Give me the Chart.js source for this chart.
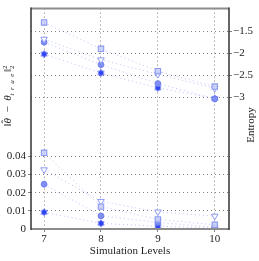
<!DOCTYPE html>
<html>
<head>
<meta charset="utf-8">
<script src="https://cdn.jsdelivr.net/npm/chart.js@4.4.0/dist/chart.umd.min.js"></script>
<style>
html, body { margin: 0; padding: 0; background: #fff; }
</style>
</head>
<body>
<canvas id="c" width="259" height="261"></canvas>
<script>
// simulation levels
const levels = [7, 8, 9, 10];

// entropy, right axis
const entSquare = [-1.30, -1.90, -2.41, -2.76];
const entTri    = [-1.68, -2.15, -2.48, -2.80];
const entCircle = [-1.75, -2.26, -2.69, -3.04];
const entStar   = [-2.02, -2.45, -2.79, -3.03];

// squared error, left axis
const errSquare = [0.0419, 0.0123, 0.0053, 0.0023];
const errTri    = [0.0326, 0.0152, 0.0094, 0.0071];
const errCircle = [0.0246, 0.0072, 0.0036, 0.0010];
const errStar   = [0.0092, 0.0031, 0.0015, 0.0005];

// tick labels
const errTicks = [0, 0.01, 0.02, 0.03, 0.04];
const entTicks = [-1.5, -2, -2.5, -3];

const FONT = '"Liberation Serif", "DejaVu Serif", serif';

// filled six-point star marker
function makeStar(color) {
    const cv = document.createElement('canvas');
    cv.width = 9; cv.height = 9;
    const g = cv.getContext('2d');
    g.fillStyle = color;
    for (let k = 0; k < 2; k++) {
        g.beginPath();
        for (let i = 0; i < 3; i++) {
            const a = -Math.PI / 2 + k * Math.PI + i * 2 * Math.PI / 3;
            const px = 4.5 + 4 * Math.cos(a), py = 4.5 + 4 * Math.sin(a);
            if (i === 0) g.moveTo(px, py); else g.lineTo(px, py);
        }
        g.closePath();
        g.fill();
    }
    return cv;
}
const starImg = makeStar('#2f44f0');

function xy(vals) {
    return vals.map((v, i) => ({x: levels[i], y: v}));
}

const lineCol = 'rgba(160, 170, 246, 0.7)';

function series(vals, axis, kind) {
    const d = {
        data: xy(vals),
        yAxisID: axis,
        borderColor: lineCol,
        borderWidth: 1,
        borderDash: [1, 3],
        fill: false,
        tension: 0
    };
    if (kind === 'square') {
        Object.assign(d, {pointStyle: 'rect', pointRadius: 3.8, pointBorderWidth: 1.1,
            pointBackgroundColor: 'rgba(200, 207, 250, 0.9)', pointBorderColor: '#8d9af2'});
    } else if (kind === 'tri') {
        Object.assign(d, {pointStyle: 'triangle', rotation: 180, pointRadius: 3.8, pointBorderWidth: 1,
            pointBackgroundColor: 'rgba(255,255,255,0.9)', pointBorderColor: '#8d9af2'});
    } else if (kind === 'circle') {
        Object.assign(d, {pointStyle: 'circle', pointRadius: 2.9, pointBorderWidth: 1,
            pointBackgroundColor: '#7f8ef0', pointBorderColor: '#7080ee'});
    } else {
        Object.assign(d, {pointStyle: starImg});
    }
    return d;
}

const decor = {
    id: 'decor',
    afterDraw(chart) {
        const ctx = chart.ctx, a = chart.chartArea;
        ctx.save();
        // frame
        ctx.strokeStyle = '#8c8c8c';
        ctx.lineWidth = 2;
        ctx.beginPath();
        ctx.moveTo(a.left, a.top); ctx.lineTo(a.right, a.top);
        ctx.moveTo(a.left, a.bottom); ctx.lineTo(a.right, a.bottom);
        ctx.stroke();
        ctx.strokeStyle = '#333';
        ctx.lineWidth = 1.5;
        ctx.beginPath();
        ctx.moveTo(a.left, a.top - 1); ctx.lineTo(a.left, a.bottom + 1);
        ctx.moveTo(a.right, a.top - 1); ctx.lineTo(a.right, a.bottom + 1);
        ctx.stroke();

        // right title
        ctx.fillStyle = '#222';
        ctx.font = '11px ' + FONT;
        ctx.textAlign = 'center';
        ctx.textBaseline = 'middle';
        ctx.translate(251, 125);
        ctx.rotate(-Math.PI / 2);
        ctx.fillText('Entropy', 0, 0);
        ctx.restore();

        // left title ||theta_hat - theta_true||_2^2
        ctx.save();
        ctx.fillStyle = '#222';
        ctx.textBaseline = 'alphabetic';
        ctx.textAlign = 'left';
        ctx.translate(11, 96);
        ctx.rotate(-Math.PI / 2);
        const big = '11px ' + FONT, it = 'italic 11px ' + FONT, sm = 'italic 7px ' + FONT, smu = '7px ' + FONT;
        // [text, font, dy, noAdvance, dx]
        const parts = [
            ['\u2016', big, 0], ['\u03b8', it, 0], ['\u02c6', big, -2, true, -5.5], ['  \u2212  ', big, 0], ['\u03b8', it, 0],
            ['t  r  u  e', sm, 2.5], ['\u2016', big, 0], ['2', smu, -4.5, true], ['2', smu, 2.5]
        ];
        let w = 0;
        parts.forEach(p => { ctx.font = p[1]; if (!p[3]) w += ctx.measureText(p[0]).width + (p[1] === sm ? 1.5 : 0); });
        let x = -w / 2;
        parts.forEach(p => {
            ctx.font = p[1];
            ctx.fillText(p[0], x + (p[4] || 0), p[2]);
            if (!p[3]) x += ctx.measureText(p[0]).width + (p[1] === sm ? 1.5 : 0);
        });
        ctx.restore();
    }
};

const gridCol = (ticks) => (c) => ticks.includes(c.tick.value) && c.tick.value !== 0 ? '#808080' : 'rgba(0,0,0,0)';

new Chart(document.getElementById('c'), {
    type: 'line',
    data: {
        datasets: [
            series(entSquare, 'y2', 'square'),
            series(entTri, 'y2', 'tri'),
            series(entCircle, 'y2', 'circle'),
            series(entStar, 'y2', 'star'),
            series(errSquare, 'y', 'square'),
            series(errTri, 'y', 'tri'),
            series(errCircle, 'y', 'circle'),
            series(errStar, 'y', 'star')
        ]
    },
    options: {
        responsive: false,
        animation: false,
        devicePixelRatio: 1,
        layout: {padding: {top: 5, left: 0, right: 0, bottom: 0}},
        plugins: {legend: {display: false}, tooltip: {enabled: false}},
        scales: {
            x: {
                type: 'linear',
                min: 6.77,
                max: 10.25,
                afterBuildTicks: s => { s.ticks = levels.map(v => ({value: v})); },
                afterFit: s => { s.height = 32; },
                grid: {color: '#808080', lineWidth: 1, tickLength: 3},
                border: {display: false, dash: [1, 3]},
                ticks: {font: {family: FONT, size: 11}, color: '#222', padding: 1, maxRotation: 0},
                title: {display: true, text: 'Simulation Levels', font: {family: FONT, size: 11},
                        color: '#222', padding: {top: 0, bottom: 3}}
            },
            y: {
                position: 'left',
                min: 0,
                max: 0.1212,
                afterBuildTicks: s => { s.ticks = errTicks.map(v => ({value: v})); },
                afterFit: s => { s.width = 31; },
                grid: {color: gridCol(errTicks), lineWidth: 1, tickLength: 3},
                border: {display: false, dash: [1, 3]},
                ticks: {font: {family: FONT, size: 11}, color: '#222', padding: 2,
                        callback: v => v === 0 ? '0' : v.toFixed(2)}
            },
            y2: {
                position: 'right',
                min: -6.0,
                max: -0.985,
                afterBuildTicks: s => { s.ticks = entTicks.map(v => ({value: v})); },
                afterFit: s => { s.width = 30; },
                grid: {color: gridCol(entTicks), lineWidth: 1, tickLength: 3},
                border: {display: false, dash: [1, 3]},
                ticks: {font: {family: FONT, size: 11}, color: '#222', padding: 1,
                        callback: v => '\u2212' + String(Math.abs(v))}
            }
        }
    },
    plugins: [decor]
});
</script>
</body>
</html>
